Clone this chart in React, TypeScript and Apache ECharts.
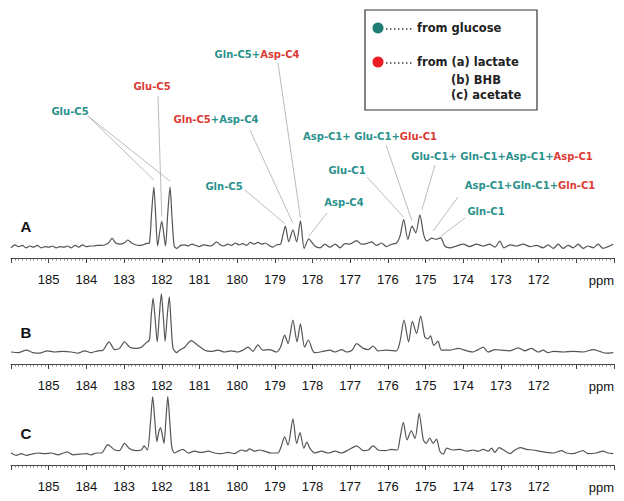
import React, { useEffect, useRef } from 'react';
import * as echarts from 'echarts';

// Spectrum A (ppm, intensity)
const specA: [number, number][] = [
  [186.0, -3], [185.9, 2], [185.8, -1], [185.7, 1], [185.6, -3], [185.5, 0], [185.4, -2], [185.3, 1], [185.2, -3], [185.1, -1],
  [185.0, -2], [184.9, 0], [184.8, -3], [184.7, -1], [184.6, -2], [184.5, 0], [184.4, -3], [184.3, 1], [184.2, -2], [184.1, 2],
  [184.0, -1], [183.9, 0], [183.8, 0], [183.7, 1], [183.6, 1], [183.5, 2], [183.4, 6], [183.32, 13], [183.22, 5], [183.1, 3],
  [182.98, 6], [182.9, 10], [182.8, 5], [182.7, 2], [182.6, 1], [182.5, 2], [182.42, 4], [182.33, 5], [182.27, 55], [182.21, 98],
  [182.16, 50], [182.11, 0], [182.05, 25], [182.0, 41], [181.95, 22], [181.9, 0], [181.84, 55], [181.78, 98], [181.73, 50], [181.67, 0],
  [181.6, -4], [181.5, 1], [181.4, 2], [181.3, 0], [181.2, 3], [181.1, 1], [181.0, -1], [180.9, 2], [180.8, 1], [180.7, 0],
  [180.62, 3], [180.55, 7], [180.45, 2], [180.35, 0], [180.25, 3], [180.15, 1], [180.05, 5], [179.95, 2], [179.85, 4], [179.75, 1],
  [179.65, 6], [179.55, 3], [179.45, 6], [179.35, 3], [179.25, 5], [179.15, 1], [179.05, -2], [178.95, 2], [178.85, 3], [178.78, 20],
  [178.72, 33], [178.63, 7], [178.52, 27], [178.42, 7], [178.32, 42], [178.22, -4], [178.1, 12], [177.94, 0], [177.8, -3], [177.67, 3],
  [177.54, -2], [177.4, 3], [177.27, -3], [177.14, 4], [177.01, 3], [176.83, 9], [176.7, 3], [176.57, 4], [176.43, 7], [176.3, 1],
  [176.17, 5], [176.04, -1], [175.9, 3], [175.77, 5], [175.68, 16], [175.58, 44], [175.47, 11], [175.36, 33], [175.26, 22], [175.15, 52],
  [175.05, 19], [174.96, 8], [174.84, 13], [174.71, 11], [174.6, 14], [174.49, 0], [174.36, -3], [174.18, 0], [174.0, 3], [173.83, -1],
  [173.65, 3], [173.47, 0], [173.3, 3], [173.16, -2], [173.03, 8], [172.92, -3], [172.76, 2], [172.59, 0], [172.41, 3], [172.23, -1],
  [172.06, 1], [171.88, -3], [171.75, 2], [171.61, -4], [171.48, 3], [171.35, -4], [171.22, 1], [171.08, -3], [170.95, 3], [170.82, -4],
  [170.69, 0], [170.55, -3], [170.42, 3], [170.29, -4], [170.16, -1], [170.02, 3],
];

// Spectrum B
const specB: [number, number][] = [
  [186.0, 0], [185.81, -1], [185.59, 3], [185.42, -1], [185.24, -2], [185.04, 2], [184.84, 0], [184.62, 1], [184.4, 0], [184.22, -2],
  [184.05, 2], [183.87, -1], [183.69, 2], [183.56, 3], [183.4, 17], [183.25, 4], [183.12, 6], [182.99, 17], [182.85, 8], [182.68, 6],
  [182.54, 8], [182.44, 14], [182.33, 20], [182.28, 60], [182.23, 90], [182.175, 55], [182.12, 17], [182.065, 60], [182.01, 97], [181.96, 60],
  [181.91, 18], [181.855, 60], [181.8, 92], [181.75, 45], [181.7, 6], [181.61, -1], [181.53, 3], [181.39, 8], [181.22, 19], [181.04, 11],
  [180.86, 3], [180.69, 1], [180.51, 3], [180.33, 0], [180.16, 2], [179.98, 0], [179.85, 3], [179.71, 8], [179.58, 1], [179.45, 12],
  [179.32, 3], [179.14, 4], [178.96, 0], [178.85, 8], [178.74, 28], [178.65, 14], [178.52, 53], [178.41, 17], [178.32, 47], [178.21, 8],
  [178.11, 20], [178.0, 3], [177.94, -1], [177.72, 1], [177.54, 3], [177.4, 0], [177.23, 4], [177.1, 0], [176.95, 3], [176.83, 14],
  [176.65, 6], [176.52, 4], [176.39, 10], [176.26, 2], [176.04, 3], [175.77, 2], [175.68, 17], [175.57, 53], [175.45, 17], [175.35, 51],
  [175.24, 31], [175.13, 60], [175.02, 25], [174.93, 22], [174.87, 27], [174.78, 11], [174.67, 18], [174.58, 3], [174.36, 3], [174.13, 6],
  [173.91, 2], [173.74, 0], [173.6, 4], [173.47, 8], [173.34, 0], [173.16, 4], [172.98, 3], [172.76, 2], [172.54, 7], [172.37, 2],
  [172.19, 6], [172.01, 0], [171.88, 3], [171.75, -1], [171.61, 1], [171.35, 0], [171.08, 1], [170.82, 0], [170.55, 4], [170.38, 1],
  [170.2, -2], [170.02, -1],
];

// Spectrum C
const specC: [number, number][] = [
  [186.0, 0], [185.86, -4], [185.73, -1], [185.59, -4], [185.46, -2], [185.28, 0], [185.11, -1], [184.93, 0], [184.75, -3], [184.51, 2],
  [184.36, -3], [184.18, -2], [184.0, -1], [183.87, -3], [183.74, 0], [183.6, 0], [183.43, 14], [183.25, 5], [183.12, 4], [182.99, 16],
  [182.85, 7], [182.68, 4], [182.54, 5], [182.47, 12], [182.38, 5], [182.3, 50], [182.24, 94], [182.185, 55], [182.13, 19], [182.08, 35],
  [182.03, 42], [181.985, 30], [181.94, 16], [181.89, 55], [181.84, 94], [181.785, 50], [181.73, 8], [181.66, 0], [181.57, 3], [181.44, 6],
  [181.3, 0], [181.13, 3], [180.95, 1], [180.77, 3], [180.6, 0], [180.42, -1], [180.24, 1], [180.07, -1], [179.89, 5], [179.76, 3],
  [179.67, 7], [179.54, 3], [179.41, 5], [179.27, 3], [179.1, 0], [178.92, 0], [178.83, 11], [178.74, 27], [178.65, 13], [178.52, 57],
  [178.42, 16], [178.33, 34], [178.23, 8], [178.15, 18], [178.07, 8], [177.94, 0], [177.76, 3], [177.58, 0], [177.4, 3], [177.23, 0],
  [177.05, 5], [176.83, 12], [176.65, 4], [176.52, 5], [176.39, 12], [176.26, 5], [176.08, 4], [175.9, 6], [175.75, 5], [175.68, 24],
  [175.59, 51], [175.49, 22], [175.38, 37], [175.28, 24], [175.17, 66], [175.06, 22], [174.98, 16], [174.89, 25], [174.8, 16], [174.71, 23],
  [174.62, 3], [174.53, -2], [174.44, 8], [174.27, 5], [174.09, 6], [173.91, 3], [173.74, 5], [173.6, 3], [173.47, 6], [173.34, 3],
  [173.25, 8], [173.16, 1], [173.05, 9], [172.9, 4], [172.76, -1], [172.63, 5], [172.48, 9], [172.32, 6], [172.15, 5], [171.97, 3],
  [171.79, 1], [171.61, 0], [171.39, 4], [171.26, 0], [171.08, -1], [170.82, 4], [170.69, -1], [170.47, 0], [170.29, 3], [170.16, 0],
  [170.02, -1],
];

const spectra = [specA, specB, specC];
const panelNames = ['A', 'B', 'C'];
const tickLabels = [185, 184, 183, 182, 181, 180, 179, 178, 177, 176, 175, 174, 173, 172];
const unitLabel = 'ppm';

const TEAL = '#2a918c';
const RED = '#dc3a35';

type Part = [string, 't' | 'r'];
interface Ann { parts: Part[]; cx: number; cy: number; sx: number; sy: number; targets: [number, number][] }

// peak annotations (all on spectrum A): label layout + target peak (ppm, intensity)
const annotations: Ann[] = [
  { parts: [['Glu-C5', 't']], cx: 70, cy: 111, sx: 88, sy: 116, targets: [[182.21, 110], [181.78, 108]] },
  { parts: [['Glu-C5', 'r']], cx: 152, cy: 86, sx: 158, sy: 96, targets: [[182.0, 49]] },
  { parts: [['Gln-C5', 't'], ['+', 't'], ['Asp-C4', 'r']], cx: 257, cy: 54, sx: 278, sy: 63, targets: [[178.32, 47]] },
  { parts: [['Gln-C5', 'r'], ['+Asp-C4', 't']], cx: 216, cy: 119, sx: 250, sy: 130, targets: [[178.52, 38]] },
  { parts: [['Gln-C5', 't']], cx: 224, cy: 186, sx: 245, sy: 190, targets: [[178.73, 37]] },
  { parts: [['Asp-C4', 't']], cx: 344, cy: 202, sx: 327, sy: 213, targets: [[178.1, 16]] },
  { parts: [['Asp-C1+ Glu-C1+', 't'], ['Glu-C1', 'r']], cx: 370, cy: 136, sx: 386, sy: 145, targets: [[175.36, 42]] },
  { parts: [['Glu-C1', 't']], cx: 347, cy: 170, sx: 367, sy: 177, targets: [[175.58, 48]] },
  { parts: [['Glu-C1+ Gln-C1+Asp-C1+', 't'], ['Asp-C1', 'r']], cx: 502, cy: 156, sx: 435, sy: 165, targets: [[175.1, 60]] },
  { parts: [['Asp-C1+Gln-C1+', 't'], ['Gln-C1', 'r']], cx: 530, cy: 185, sx: 458, sy: 197, targets: [[174.8, 25]] },
  { parts: [['Gln-C1', 't']], cx: 486, cy: 211, sx: 465, sy: 218, targets: [[174.6, 16]] },
];

const legendItems = ['from glucose', 'from (a) lactate'];
const legendExtra = ['(b) BHB', '(c) acetate'];

const ANN_FONT = 'DejaVu Sans';

export default function App() {
  const ref = useRef<HTMLDivElement>(null);
  useEffect(() => {
    const chart = echarts.init(ref.current!, null, { renderer: 'svg' });
    const tops = [186, 292, 393];
    const grid = tops.map((top) => ({ left: 11, right: 10, top, height: 72 }));
    const xAxis = tops.map((_, i) => ({
      gridIndex: i,
      type: 'value',
      min: 170,
      max: 186,
      interval: 1,
      inverse: true,
      axisLine: { show: true, onZero: false, lineStyle: { color: '#444', width: 1 } },
      axisTick: { show: true, length: 5, lineStyle: { color: '#444', width: 1 } },
      minorTick: { show: true, splitNumber: 10, length: 2.5, lineStyle: { color: '#666', width: 0.8 } },
      splitLine: { show: false },
      axisLabel: {
        margin: 15,
        fontSize: 13,
        color: '#111',
        fontFamily: 'Liberation Sans',
        formatter: (v: number) => (tickLabels.includes(Math.round(v)) ? String(Math.round(v)) : ''),
      },
    }));
    const yAxis = tops.map((_, i) => ({ gridIndex: i, type: 'value', min: -20, max: 100, show: false }));
    const series = spectra.map((d, i) => ({
      type: 'line',
      xAxisIndex: i,
      yAxisIndex: i,
      data: d,
      showSymbol: false,
      smooth: 0.25,
      lineStyle: { color: '#555', width: 1.2 },
      silent: true,
    }));
    chart.setOption({ animation: false, backgroundColor: '#fff', grid, xAxis, yAxis, series });

    const graphic: any[] = [];
    // panel letters and unit labels
    panelNames.forEach((n, i) => {
      const p = chart.convertToPixel({ xAxisIndex: i, yAxisIndex: i }, [185.6, 0]) as number[];
      graphic.push({
        type: 'text', x: 26, y: p[1] - 20,
        style: { text: n, font: 'bold 15px Liberation Sans', fill: '#111', align: 'center', verticalAlign: 'middle', textAlign: 'center', textVerticalAlign: 'middle' },
      });
      const u = chart.convertToPixel({ xAxisIndex: i, yAxisIndex: i }, [170, -20]) as number[];
      graphic.push({
        type: 'text', x: u[0], y: u[1] + 22,
        style: { text: unitLabel, font: '13px Liberation Sans', fill: '#111', align: 'right', verticalAlign: 'middle', textAlign: 'right', textVerticalAlign: 'middle' },
      });
    });
    // annotations
    annotations.forEach((a) => {
      a.targets.forEach((t) => {
        const p = chart.convertToPixel({ xAxisIndex: 0, yAxisIndex: 0 }, t) as number[];
        graphic.push({ type: 'line', shape: { x1: a.sx, y1: a.sy, x2: p[0], y2: p[1] }, style: { stroke: '#b4b4b4', lineWidth: 0.9 }, silent: true });
      });
      const text = a.parts.map(([s, c]) => `{${c}|${s}}`).join('');
      graphic.push({
        type: 'text', x: a.cx, y: a.cy,
        style: {
          text,
          align: 'center', verticalAlign: 'middle', textAlign: 'center', textVerticalAlign: 'middle',
          font: `bold 10px ${ANN_FONT}`,
          rich: {
            t: { fill: TEAL, fontSize: 10, fontWeight: 'bold', fontFamily: ANN_FONT },
            r: { fill: RED, fontSize: 10, fontWeight: 'bold', fontFamily: ANN_FONT },
          },
        },
      });
    });
    // legend box
    graphic.push({ type: 'rect', shape: { x: 365, y: 10, width: 172, height: 100 }, style: { fill: '#fff', stroke: '#333', lineWidth: 1.2 } });
    const legColors = ['#1d7d74', '#ee1c24'];
    const legY = [28, 62];
    legendItems.forEach((s, i) => {
      graphic.push({ type: 'circle', shape: { cx: 378, cy: legY[i], r: 5.5 }, style: { fill: legColors[i] } });
      graphic.push({ type: 'line', shape: { x1: 386, y1: legY[i] + 1, x2: 414, y2: legY[i] + 1 }, style: { stroke: '#333', lineWidth: 1.4, lineDash: [1.4, 2.6] } });
      graphic.push({ type: 'text', x: 417, y: legY[i], style: { text: s, font: 'bold 11.5px DejaVu Sans', fill: '#222', align: 'left', verticalAlign: 'middle', textAlign: 'left', textVerticalAlign: 'middle' } });
    });
    legendExtra.forEach((s, i) => {
      graphic.push({ type: 'text', x: 451, y: 80 + i * 15, style: { text: s, font: 'bold 11.5px DejaVu Sans', fill: '#222', align: 'left', verticalAlign: 'middle', textAlign: 'left', textVerticalAlign: 'middle' } });
    });
    chart.setOption({ graphic });
    return () => chart.dispose();
  }, []);
  return <div ref={ref} style={{ position: 'fixed', left: 0, top: 0, width: 624, height: 501, background: '#fff' }} />;
}
